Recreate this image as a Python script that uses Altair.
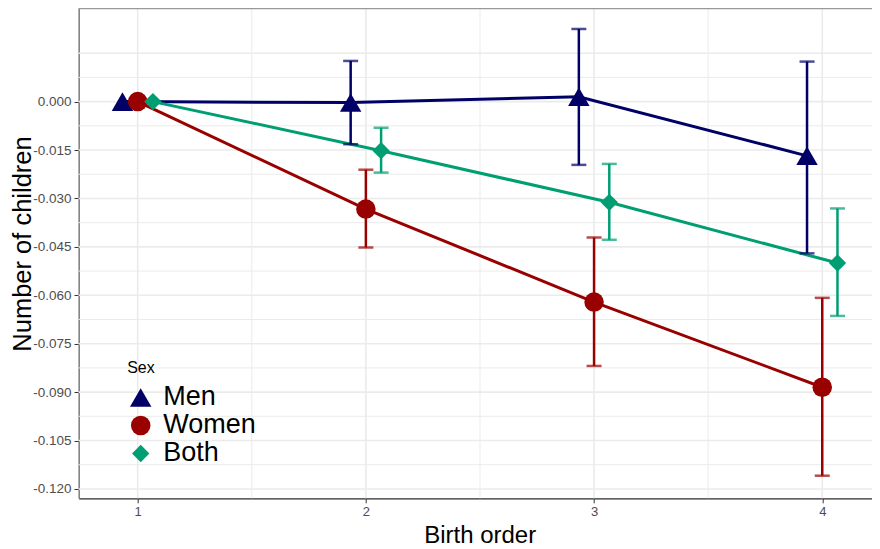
import altair as alt
import pandas as pd

# ---- data ----
orders = [1, 2, 3, 4]
sexes = ["Men", "Women", "Both"]
men_est = [0.0, -0.0003, 0.0015, -0.0168]
men_lo = [0.0, -0.0132, -0.0196, -0.0470]
men_hi = [0.0, 0.0126, 0.0225, 0.0124]
women_est = [0.0, -0.0333, -0.0621, -0.0885]
women_lo = [0.0, -0.0452, -0.0819, -0.1159]
women_hi = [0.0, -0.0211, -0.0421, -0.0608]
both_est = [0.0, -0.0152, -0.0312, -0.0500]
both_lo = [0.0, -0.0220, -0.0428, -0.0664]
both_hi = [0.0, -0.0081, -0.0193, -0.0331]
dodge = [-0.0667, 0.0, 0.0667]

y_major = [-0.120, -0.105, -0.090, -0.075, -0.060, -0.045, -0.030, -0.015, 0.000]
y_grid_major = y_major + [0.015]
y_grid_minor = [-0.1125, -0.0975, -0.0825, -0.0675, -0.0525, -0.0375, -0.0225, -0.0075, 0.0075]
x_grid_major = [1, 2, 3, 4]
x_grid_minor = [1.5, 2.5, 3.5]

colors = ["#000066", "#990000", "#009E73"]
shapes = ["triangle-up", "circle", "diamond"]
sizes = [460, 300, 190]

rows = []
for s, est, lo, hi, d in zip(sexes, [men_est, women_est, both_est],
                             [men_lo, women_lo, both_lo],
                             [men_hi, women_hi, both_hi], dodge):
    for o, e, l, h in zip(orders, est, lo, hi):
        rows.append({"sex": s, "order": o, "xpos": o + d, "est": e, "lo": l, "hi": h})
df = pd.DataFrame(rows)
df_err = df[df["lo"] != df["hi"]]

W, H = 793.3, 490.3
FONT = "Liberation Sans"

xscale = alt.Scale(domain=[0.7415, 4.218], nice=False, zero=False)
yscale = alt.Scale(domain=[-0.1229, 0.0290], nice=False, zero=False)

legend_def = alt.Legend(orient="none", legendX=48.5, legendY=352,
                        titleFontSize=16, titleFont=FONT, titleFontWeight="normal",
                        titleColor="black", labelFontSize=27, labelFont=FONT,
                        labelColor="black", labelOffset=9, rowPadding=0,
                        titlePadding=8, padding=0)
color_enc = alt.Color("sex:N", scale=alt.Scale(domain=sexes, range=colors), title="Sex",
                      legend=legend_def)
shape_enc = alt.Shape("sex:N", scale=alt.Scale(domain=sexes, range=shapes), title="Sex",
                      legend=legend_def)
size_enc = alt.Size("sex:N", scale=alt.Scale(domain=sexes, range=sizes), title="Sex",
                    legend=legend_def)
color_nolegend = alt.Color("sex:N", scale=alt.Scale(domain=sexes, range=colors), legend=None)

grid_major_x = alt.Chart(pd.DataFrame({"g": x_grid_major})).mark_rule(
    color="#EBEBEB", strokeWidth=1.6).encode(x=alt.X("g:Q", scale=xscale))
grid_minor_x = alt.Chart(pd.DataFrame({"g": x_grid_minor})).mark_rule(
    color="#EBEBEB", strokeWidth=1.0).encode(x=alt.X("g:Q", scale=xscale))
grid_major_y = alt.Chart(pd.DataFrame({"g": y_grid_major})).mark_rule(
    color="#EBEBEB", strokeWidth=1.6).encode(y=alt.Y("g:Q", scale=yscale))
grid_minor_y = alt.Chart(pd.DataFrame({"g": y_grid_minor})).mark_rule(
    color="#EBEBEB", strokeWidth=1.0).encode(y=alt.Y("g:Q", scale=yscale))

top_border = alt.Chart(pd.DataFrame({"a": [0]})).mark_rule(
    color="#999999", strokeWidth=1.5).encode(y=alt.value(0.5), x=alt.value(0), x2=alt.value(W))

base = alt.Chart(df)

lines = base.mark_line(strokeWidth=3).encode(
    x=alt.X("xpos:Q", scale=xscale,
            axis=alt.Axis(values=orders, format="d", grid=False, title="Birth order",
                          labelFontSize=13, labelColor="#4D4D4D", labelFont=FONT,
                          labelPadding=3, tickSize=4.5, tickColor="#333333",
                          domainColor="#333333", domainWidth=1.2,
                          titleFontSize=24, titleFont=FONT, titleFontWeight="normal",
                          titleColor="black", titleX=401, titleY=44, titleBaseline="alphabetic",
                          titleAlign="center")),
    y=alt.Y("est:Q", scale=yscale,
            axis=alt.Axis(values=y_major, grid=False, title="Number of children",
                          labelExpr="replace(format(datum.value, '.3f'), '\u2212', '-')",
                          labelFontSize=13.5, labelColor="#4D4D4D", labelFont=FONT,
                          labelPadding=3, tickSize=4.7, tickColor="#333333",
                          domainColor="#7F7F7F", domainWidth=1.5,
                          titleFontSize=25.5, titleFont=FONT, titleFontWeight="normal",
                          titleColor="black", titleAngle=-90, titleX=-48.5, titleY=235.5,
                          titleBaseline="alphabetic", titleAlign="center")),
    color=color_nolegend,
    detail="sex:N",
)

err_v = alt.Chart(df_err).mark_rule(strokeWidth=2.5).encode(
    x=alt.X("xpos:Q", scale=xscale),
    y=alt.Y("lo:Q", scale=yscale),
    y2="hi:Q",
    color=color_nolegend,
)
cap_lo = alt.Chart(df_err).mark_tick(orient="horizontal", size=15, thickness=2.5).encode(
    x=alt.X("xpos:Q", scale=xscale),
    y=alt.Y("lo:Q", scale=yscale),
    color=color_nolegend,
)
cap_hi = alt.Chart(df_err).mark_tick(orient="horizontal", size=15, thickness=2.5).encode(
    x=alt.X("xpos:Q", scale=xscale),
    y=alt.Y("hi:Q", scale=yscale),
    color=color_nolegend,
)

points = base.mark_point(filled=True, opacity=1).encode(
    x=alt.X("xpos:Q", scale=xscale),
    y=alt.Y("est:Q", scale=yscale),
    color=color_enc,
    shape=shape_enc,
    size=size_enc,
)

chart = alt.layer(
    grid_minor_x, grid_minor_y, grid_major_x, grid_major_y, top_border,
    lines, err_v, cap_lo, cap_hi, points
).resolve_legend(
    color="independent", shape="independent", size="independent"
).properties(
    width=W, height=H,
    autosize=alt.AutoSizeParams(type="none"),
    padding={"left": 70.7, "top": 0, "right": 0, "bottom": 50},
).configure_view(stroke=None).configure(background="white")

chart.save("out.html", embed_options={"renderer": "svg", "actions": False})
